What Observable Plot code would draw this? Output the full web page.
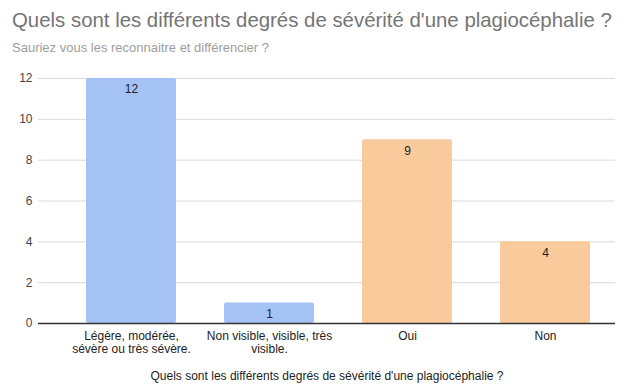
<!DOCTYPE html>
<html>
<head>
<meta charset="utf-8">
<script src="https://cdn.jsdelivr.net/npm/d3@7"></script>
<script src="https://cdn.jsdelivr.net/npm/@observablehq/plot@0.6"></script>
<style>
  body { margin: 0; background: #fff; font-family: "Liberation Sans", Arial, sans-serif; }
  #wrap { width: 627px; height: 385px; position: relative; overflow: hidden; }
  #title { position: absolute; left: 12px; top: 9px; font-size: 20.4px; color: #757575; white-space: nowrap; }
  #subtitle { position: absolute; left: 12px; top: 40px; font-size: 13px; color: #9e9e9e; white-space: nowrap; }
  #chart { position: absolute; left: 0; top: 60px; }
</style>
</head>
<body>
<div id="wrap">
  <div id="title">Quels sont les différents degrés de sévérité d'une plagiocéphalie ?</div>
  <div id="subtitle">Sauriez vous les reconnaitre et différencier ?</div>
  <div id="chart"></div>
</div>
<script>
// Answers, counts and the two colour groups
const categories = ["Légère, modérée, sévère ou très sévère.", "Non visible, visible, très visible.", "Oui", "Non"];
const tickLabels = ["Légère, modérée,\nsévère ou très sévère.", "Non visible, visible, très\nvisible.", "Oui", "Non"];
const counts = [12, 1, 9, 4];
const groups = ["degré", "degré", "reconnaître", "reconnaître"];
const yTicks = [0, 2, 4, 6, 8, 10, 12];
const caption = "Quels sont les différents degrés de sévérité d'une plagiocéphalie ?";

const rows = categories.map((c, i) => ({category: c, count: counts[i], group: groups[i], label: tickLabels[i]}));

const chart = Plot.plot({
  width: 627,
  height: 325,
  marginTop: 18,
  marginBottom: 62,
  marginLeft: 38,
  marginRight: 12,
  style: {fontFamily: "'Liberation Sans', Arial, sans-serif", fontSize: "12px", color: "#222"},
  x: {domain: categories, range: [62, 614], paddingInner: 0.35, paddingOuter: 0.175},
  y: {domain: [0, 12]},
  color: {domain: ["degré", "reconnaître"], range: ["#a4c2f4", "#f9cb9c"]},
  marks: [
    Plot.gridY(yTicks, {stroke: "#d9d9d9", strokeOpacity: 1}),
    Plot.barY(rows, {x: "category", y: "count", fill: "group", rx: 2}),
    Plot.text(rows, {x: "category", y: "count", text: d => String(d.count), dy: 11, fill: "#222", fontSize: 12}),
    Plot.ruleY([0], {stroke: "#333", strokeWidth: 1.5}),
    Plot.axisY(yTicks, {tickSize: 0, tickPadding: 6, fontSize: 12, fill: "#444", label: null}),
    Plot.axisX({tickSize: 0, tickPadding: 7, fontSize: 12, fill: "#222",
      tickFormat: (d) => tickLabels[categories.indexOf(d)], lineHeight: 1.12,
      label: caption, labelAnchor: "center", labelOffset: 56, labelArrow: "none"})
  ]
});
document.getElementById("chart").append(chart);
</script>
</body>
</html>
